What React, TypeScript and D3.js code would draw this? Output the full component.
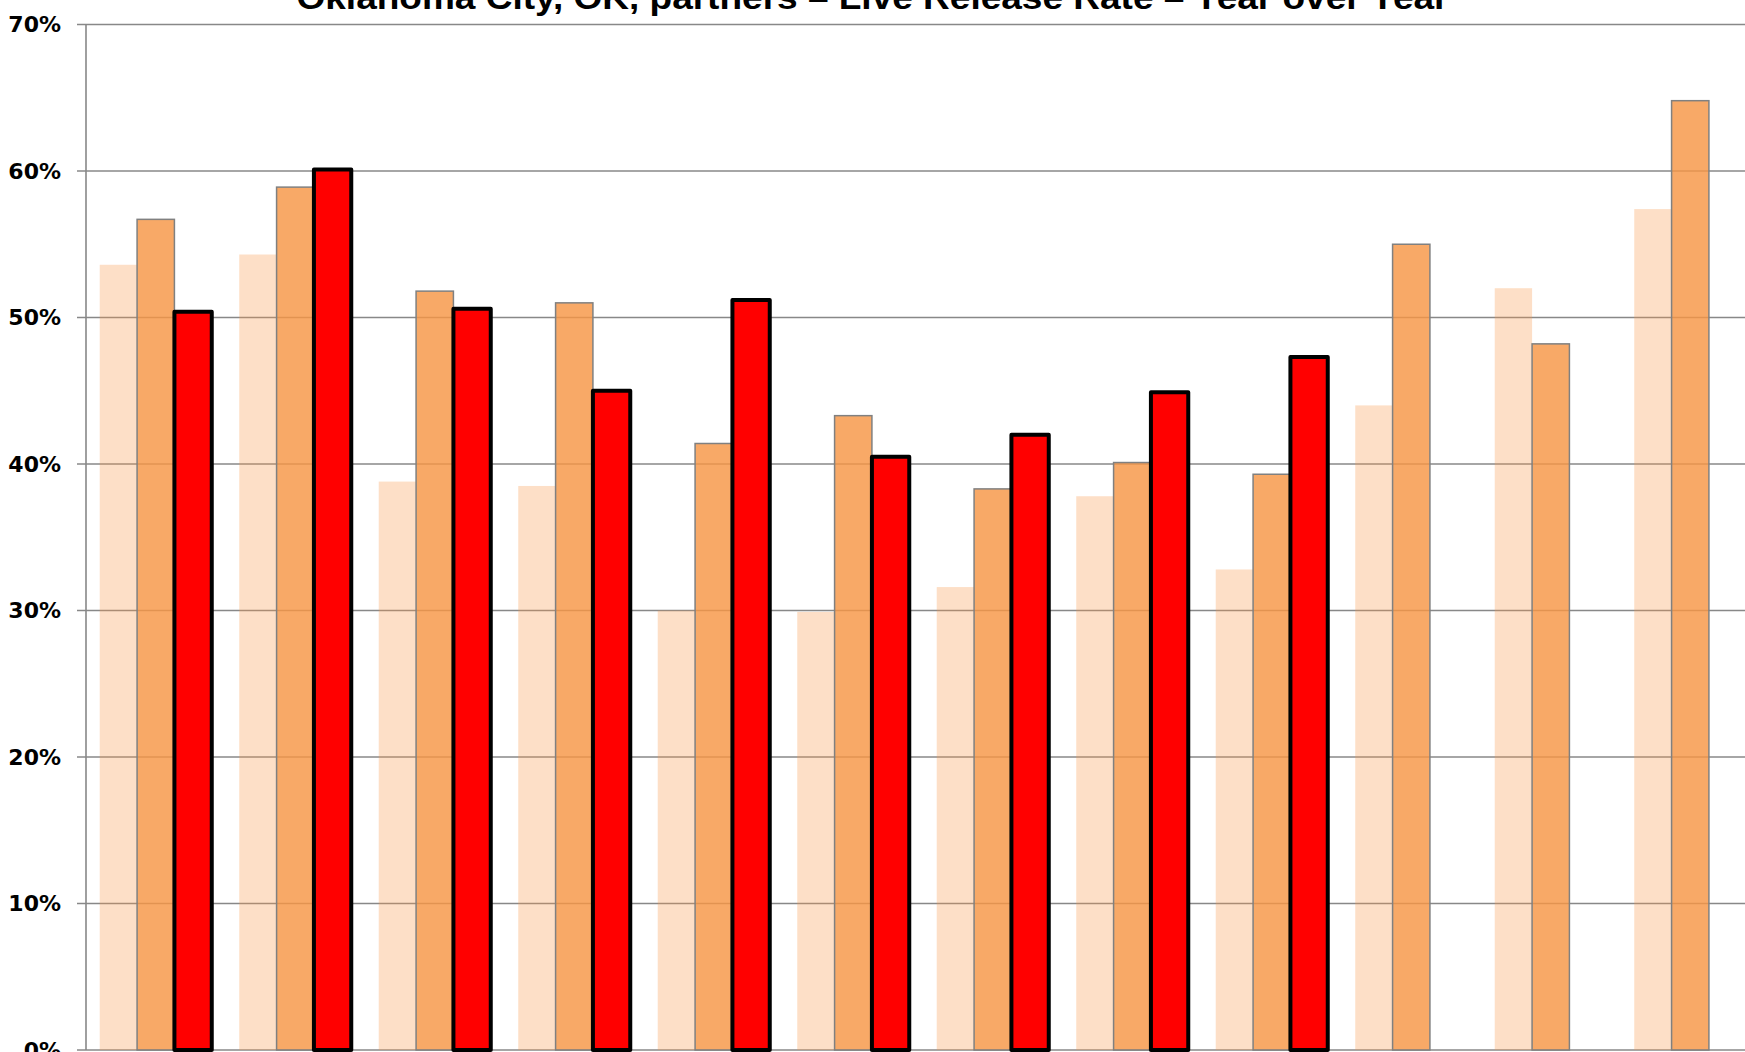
import React, { useEffect, useRef } from 'react';
import * as d3 from 'd3';

const WIDTH = 1745;
const HEIGHT = 1052;
const MARGIN = { top: 24.5, left: 86, bottom: 2 };
const PLOT_RIGHT = 86 + 12 * 139.5; // plot runs past the cropped right edge

const TITLE = 'Oklahoma City, OK, partners  \u2013  Live Release Rate  \u2013  Year over Year';

const months = ['Jan', 'Feb', 'Mar', 'Apr', 'May', 'Jun', 'Jul', 'Aug', 'Sep', 'Oct', 'Nov', 'Dec'];
const seriesNames = ['Two years ago', 'Last year', 'This year'];

const twoYearsAgo = [53.6, 54.3, 38.8, 38.5, 30.0, 29.9, 31.6, 37.8, 32.8, 44.0, 52.0, 57.4];
const lastYear = [56.7, 58.9, 51.8, 51.0, 41.4, 43.3, 38.3, 40.1, 39.3, 55.0, 48.2, 64.8];
const thisYear: (number | null)[] = [50.4, 60.1, 50.6, 45.0, 51.2, 40.5, 42.0, 44.9, 47.3, null, null, null];

const yTicks = [0, 10, 20, 30, 40, 50, 60, 70];

const App: React.FC = () => {
  const svgRef = useRef<SVGSVGElement | null>(null);

  useEffect(() => {
    document.body.style.margin = '0';
    if (!svgRef.current) return;
    const svg = d3.select(svgRef.current);
    svg.selectAll('*').remove();

    const y = d3.scaleLinear().domain([0, 70]).range([HEIGHT - MARGIN.bottom, MARGIN.top]);
    const x0 = d3.scaleBand<string>()
      .domain(months)
      .range([MARGIN.left, PLOT_RIGHT])
      .paddingInner(0.197)
      .paddingOuter(0.0985);
    const x1 = d3.scaleBand<string>().domain(seriesNames).range([0, x0.bandwidth()]).padding(0);

    // gridlines
    svg.append('g')
      .selectAll('line')
      .data(yTicks)
      .join('line')
      .attr('x1', MARGIN.left - 9)
      .attr('x2', WIDTH)
      .attr('y1', d => y(d))
      .attr('y2', d => y(d))
      .attr('stroke', '#888')
      .attr('stroke-width', 1.6);

    // y axis line
    svg.append('line')
      .attr('x1', MARGIN.left)
      .attr('x2', MARGIN.left)
      .attr('y1', y(70))
      .attr('y2', y(0))
      .attr('stroke', '#888')
      .attr('stroke-width', 1.6);

    svg.append('g')
      .selectAll('text')
      .data(yTicks)
      .join('text')
      .attr('x', 61)
      .attr('y', d => y(d))
      .attr('dy', '0.36em')
      .attr('text-anchor', 'end')
      .attr('font-family', '"DejaVu Sans", Verdana, sans-serif')
      .attr('font-weight', 'bold')
      .attr('font-size', 22)
      .attr('fill', '#000')
      .text(d => `${d}%`);

    const bars = svg.append('g');

    months.forEach((m, i) => {
      const gx = x0(m)!;
      const w = x1.bandwidth();

      bars.append('rect')
        .attr('x', gx + x1(seriesNames[0])!)
        .attr('width', w)
        .attr('y', y(twoYearsAgo[i]))
        .attr('height', y(0) - y(twoYearsAgo[i]))
        .attr('fill', '#F79646')
        .attr('fill-opacity', 0.3);

      bars.append('rect')
        .attr('x', gx + x1(seriesNames[1])!)
        .attr('width', w)
        .attr('y', y(lastYear[i]))
        .attr('height', y(0) - y(lastYear[i]))
        .attr('fill', '#F79646')
        .attr('fill-opacity', 0.82)
        .attr('stroke', '#808080')
        .attr('stroke-width', 1.5);

      const v = thisYear[i];
      if (v != null) {
        bars.append('rect')
          .attr('x', gx + x1(seriesNames[2])!)
          .attr('width', w)
          .attr('y', y(v))
          .attr('height', y(0) - y(v))
          .attr('fill', '#FF0000')
          .attr('stroke', '#000')
          .attr('stroke-width', 4)
          .attr('stroke-linejoin', 'round');
      }
    });

    svg.append('text')
      .attr('x', WIDTH / 2)
      .attr('y', 9)
      .attr('text-anchor', 'middle')
      .attr('font-family', '"Liberation Sans", Arial, sans-serif')
      .attr('font-weight', 'bold')
      .attr('font-size', 34)
      .attr('textLength', 1152)
      .attr('lengthAdjust', 'spacingAndGlyphs')
      .attr('fill', '#000')
      .text(TITLE);
  }, []);

  return (
    <div style={{ position: 'absolute', left: 0, top: 0, width: WIDTH, height: HEIGHT, overflow: 'hidden', background: '#fff' }}>
      <svg ref={svgRef} width={WIDTH} height={HEIGHT} />
    </div>
  );
};

export default App;
